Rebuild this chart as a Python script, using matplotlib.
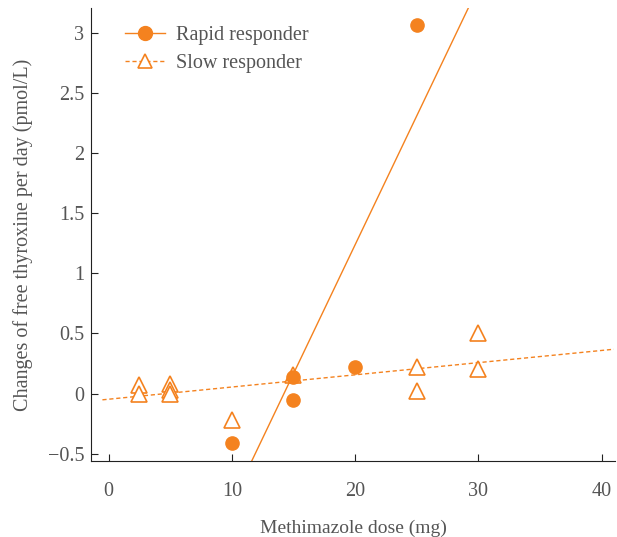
import numpy as np
import matplotlib.pyplot as plt

# Rapid responder (filled circles)
rapid_dose = [10, 15, 15, 20, 25]
rapid_change = [-0.41, 0.14, -0.05, 0.22, 3.07]

# Slow responder (open triangles)
slow_dose = [2.5, 2.5, 5, 5, 5, 10, 15, 25, 25, 30, 30]
slow_change = [0.07, 0.0, 0.08, 0.03, 0.0, -0.22, 0.15, 0.22, 0.02, 0.5, 0.2]

orange = '#F4821F'
grey = '#555555'

plt.rcParams['font.family'] = ['Liberation Serif', 'DejaVu Serif']

fig = plt.figure(figsize=(6.17, 5.37), dpi=100)
ax = fig.add_axes([0.148, 0.142, 0.849, 0.843])

# linear fits
r_fit = np.polyfit(rapid_dose, rapid_change, 1)
s_fit = np.polyfit(slow_dose, slow_change, 1)
xs = np.linspace(-0.5, 41, 200)

ax.plot(xs, np.polyval(r_fit, xs), color=orange, lw=1.0)
ax.plot(xs, np.polyval(s_fit, xs), color=orange, lw=1.0, ls=(0, (3, 2)))

ax.plot(slow_dose, slow_change, ls='none', marker='^', ms=11, mfc='white',
        mec=orange, mew=1.2, alpha=1)
ax.plot(rapid_dose, rapid_change, ls='none', marker='o', ms=9.5, color=orange)

# legend proxies
h1, = ax.plot([], [], color=orange, lw=1.0, marker='o', ms=10)
h2, = ax.plot([], [], color=orange, lw=1.0, ls=(0, (3, 2)), marker='^', ms=10,
              mfc='white', mec=orange, mew=1.2)
ax.legend([h1, h2], ['Rapid responder', 'Slow responder'], loc='upper left',
          bbox_to_anchor=(0.03, 1.0), frameon=False, fontsize=14.5,
          labelcolor=grey, handlelength=2.0, handletextpad=0.5, labelspacing=0.45)

ax.set_xlim(-1.4, 41.1)
ax.set_ylim(-0.56, 3.21)
ax.set_xticks([0, 10, 20, 30, 40])
ax.set_yticks([-0.5, 0, 0.5, 1, 1.5, 2, 2.5, 3])
ax.set_yticklabels(['\u22120.5', '0', '0.5', '1', '1.5', '2', '2.5', '3'])
ax.tick_params(labelsize=14.5, colors='#222222', labelcolor=grey, direction='in', length=5)
ax.tick_params(axis='x', pad=15)
ax.tick_params(axis='y', pad=5)
for s in ['top', 'right']:
    ax.spines[s].set_visible(False)
for s in ['left', 'bottom']:
    ax.spines[s].set_color('#222222')

ax.set_xlabel('Methimazole dose (mg)', fontsize=14, color=grey, labelpad=14)
ax.set_ylabel('Changes of free thyroxine per day (pmol/L)', fontsize=14.5, color=grey, labelpad=11)

fig.savefig('out.png', dpi=100)
